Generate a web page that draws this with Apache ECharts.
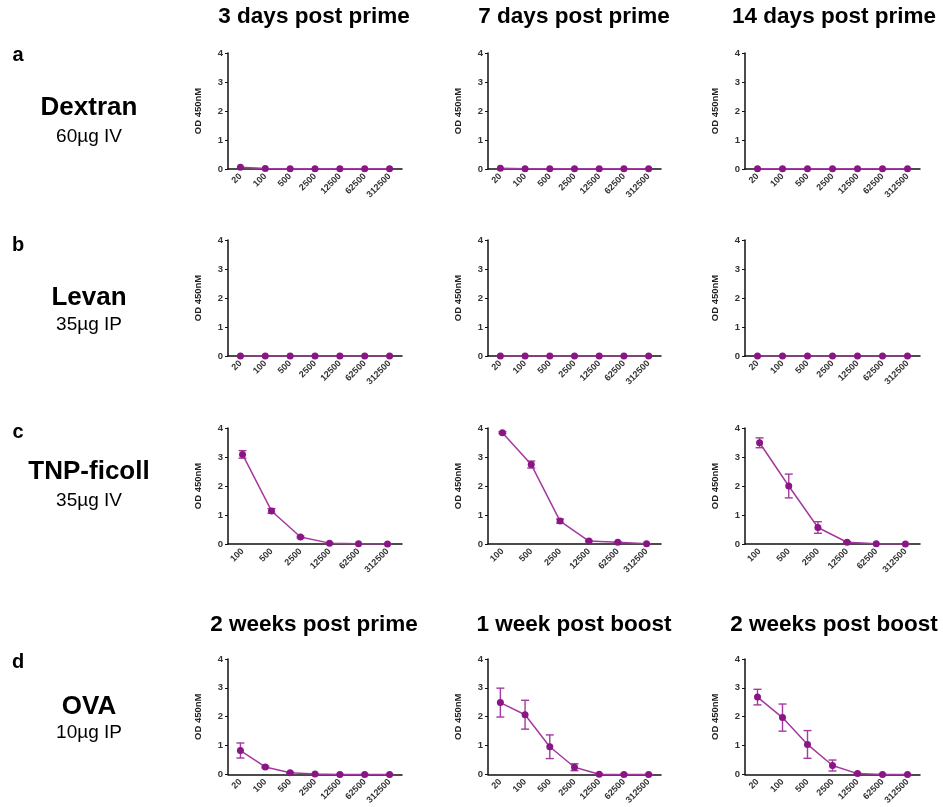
<!DOCTYPE html>
<html>
<head>
<meta charset="utf-8">
<script src="https://cdn.jsdelivr.net/npm/echarts@6/dist/echarts.min.js"></script>
<style>
  html, body { margin: 0; padding: 0; background: #fff; }
  #chart { width: 943px; height: 807px; }
</style>
</head>
<body>
<div id="chart"></div>
<script>
// dilutions (x categories)
var dilFrom20 = ['20', '100', '500', '2500', '12500', '62500', '312500'];
var dilFrom100 = ['100', '500', '2500', '12500', '62500', '312500'];
var yTicks = ['0', '1', '2', '3', '4'];

// column / row headings
var topTitles = ['3 days post prime', '7 days post prime', '14 days post prime'];
var ovaTitles = ['2 weeks post prime', '1 week post boost', '2 weeks post boost'];
var rowLetters = ['a', 'b', 'c', 'd'];
var rowNames = ['Dextran', 'Levan', 'TNP-ficoll', 'OVA'];
var rowDoses = ['60µg IV', '35µg IP', '35µg IV', '10µg IP'];

// OD 450nM means
var dextran3 = [0.06, 0.02, 0.01, 0.01, 0.01, 0.01, 0.01];
var dextran7 = [0.03, 0.01, 0.01, 0.01, 0.01, 0.01, 0.01];
var dextran14 = [0.01, 0.01, 0.01, 0.01, 0.01, 0.01, 0.01];
var levan3 = [0, 0, 0, 0, 0, 0, 0];
var levan7 = [0, 0, 0, 0, 0, 0, 0];
var levan14 = [0, 0, 0, 0, 0, 0, 0];
var tnp3 = [3.09, 1.14, 0.24, 0.03, 0.01, 0.0];
var tnp7 = [3.84, 2.74, 0.79, 0.10, 0.06, 0.01];
var tnp14 = [3.49, 2.00, 0.57, 0.06, 0.01, 0.0];
var ova2w = [0.83, 0.26, 0.06, 0.02, 0.0, 0.0, 0.0];
var ova1wb = [2.49, 2.07, 0.96, 0.25, 0.01, 0.0, 0.0];
var ova2wb = [2.68, 1.97, 1.04, 0.31, 0.03, 0.0, 0.0];

// error (± SEM)
var tnp3Err = [0.13, 0.08, 0.03, 0.01, 0, 0];
var tnp7Err = [0.03, 0.12, 0.07, 0.02, 0.01, 0];
var tnp14Err = [0.17, 0.41, 0.2, 0.02, 0, 0];
var ova2wErr = [0.26, 0.03, 0.02, 0, 0, 0, 0];
var ova1wbErr = [0.5, 0.5, 0.41, 0.12, 0, 0, 0];
var ova2wbErr = [0.27, 0.47, 0.48, 0.19, 0.01, 0, 0];

var panels = [
  [dilFrom20, dextran3, null], [dilFrom20, dextran7, null], [dilFrom20, dextran14, null],
  [dilFrom20, levan3, null], [dilFrom20, levan7, null], [dilFrom20, levan14, null],
  [dilFrom100, tnp3, tnp3Err], [dilFrom100, tnp7, tnp7Err], [dilFrom100, tnp14, tnp14Err],
  [dilFrom20, ova2w, ova2wErr], [dilFrom20, ova1wb, ova1wbErr], [dilFrom20, ova2wb, ova2wbErr]
];

// layout
var colLeft = [228, 488, 745];
var colWidth = [174, 173, 175];
var rowTop = [53, 240, 428, 659];
var rowHeight = [116, 116, 116, 117];
var titleX = [314, 574, 834];

var lineColor = '#a4399f';
var dotColor = '#8a1584';
var font = 'Liberation Sans, Arial, sans-serif';

var chart = echarts.init(document.getElementById('chart'));

var grids = [], xAxes = [], yAxes = [], series = [];

panels.forEach(function (p, i) {
  var r = Math.floor(i / 3), c = i % 3;
  grids.push({ left: colLeft[c], top: rowTop[r], width: colWidth[c], height: rowHeight[r] });
  xAxes.push({
    type: 'category', gridIndex: i, data: p[0], boundaryGap: true,
    axisLine: { lineStyle: { color: '#111', width: 1.5 } },
    axisTick: { show: false },
    axisLabel: { rotate: 45, fontSize: 9, fontWeight: 'bold', color: '#333', fontFamily: font, margin: 6, interval: 0 }
  });
  yAxes.push({
    type: 'value', gridIndex: i, min: 0, max: 4, interval: 1,
    name: 'OD 450nM', nameLocation: 'middle', nameGap: 25, nameRotate: 90,
    nameTextStyle: { fontSize: 9.5, fontWeight: 'bold', color: '#222', fontFamily: font },
    axisLine: { show: true, lineStyle: { color: '#111', width: 1.5 } },
    axisTick: { show: true, length: 3, lineStyle: { color: '#111', width: 1 } },
    axisLabel: { fontSize: 9.5, fontWeight: 'bold', color: '#333', fontFamily: font, margin: 5,
      formatter: function (v) { return yTicks[v] !== undefined ? yTicks[v] : v; } },
    splitLine: { show: false }
  });
  series.push({
    type: 'line', xAxisIndex: i, yAxisIndex: i, data: p[1],
    symbol: 'circle', symbolSize: 7,
    lineStyle: { color: lineColor, width: 1.5 },
    itemStyle: { color: dotColor },
    z: 3
  });
  if (p[2]) {
    var errData = p[1].map(function (v, k) { return [k, v - p[2][k], v + p[2][k]]; });
    series.push({
      type: 'custom', xAxisIndex: i, yAxisIndex: i, data: errData, z: 2,
      renderItem: function (params, api) {
        var lo = api.coord([api.value(0), api.value(1)]);
        var hi = api.coord([api.value(0), api.value(2)]);
        var w = 4;
        var st = { stroke: lineColor, lineWidth: 1.4 };
        return {
          type: 'group',
          children: [
            { type: 'line', shape: { x1: lo[0], y1: lo[1], x2: hi[0], y2: hi[1] }, style: st },
            { type: 'line', shape: { x1: lo[0] - w, y1: lo[1], x2: lo[0] + w, y2: lo[1] }, style: st },
            { type: 'line', shape: { x1: hi[0] - w, y1: hi[1], x2: hi[0] + w, y2: hi[1] }, style: st }
          ]
        };
      }
    });
  }
});

var graphics = [];
function txt(x, y, s, size, weight) {
  graphics.push({
    type: 'text', x: x, y: y,
    style: { text: s, fontSize: size, fontWeight: weight, fontFamily: font, fill: '#000', align: 'center', verticalAlign: 'middle' }
  });
}
topTitles.forEach(function (t, c) { txt(titleX[c], 17, t, 22.5, 'bold'); });
ovaTitles.forEach(function (t, c) { txt(titleX[c], 625, t, 22.5, 'bold'); });

var letterY = [55, 245, 432, 662];
var nameY = [108, 298, 472, 707];
var doseY = [137, 325, 501, 733];
rowLetters.forEach(function (l, r) {
  txt(18, letterY[r], l, 20, 'bold');
  txt(89, nameY[r], rowNames[r], 26, 'bold');
  txt(89, doseY[r], rowDoses[r], 19, 'normal');
});

chart.setOption({
  animation: false,
  grid: grids,
  xAxis: xAxes,
  yAxis: yAxes,
  series: series,
  graphic: graphics
});
</script>
</body>
</html>
